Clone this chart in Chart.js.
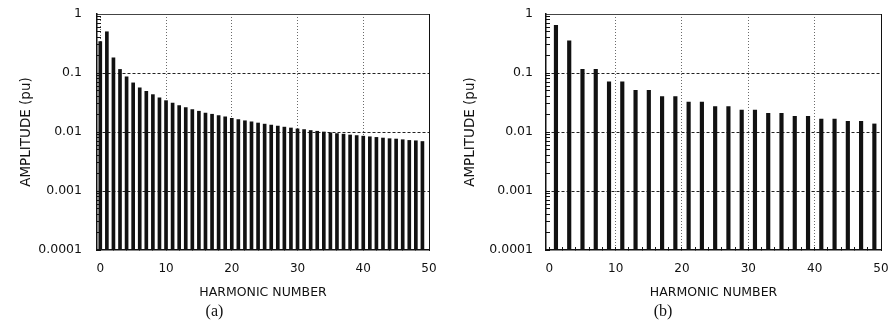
<!DOCTYPE html>
<html>
<head>
<meta charset="utf-8">
<title>Harmonic spectra</title>
<script src="https://cdn.jsdelivr.net/npm/chart.js@4.4.1/dist/chart.umd.min.js"></script>
<style>
  html, body { margin: 0; padding: 0; background: #fff; }
  #wrap { position: relative; width: 891px; height: 328px; overflow: hidden; }
  canvas { position: absolute; top: 0; }
  #spectrumA { left: 0; }
  #spectrumB { left: 445px; }
</style>
</head>
<body>
<div id="wrap">
  <canvas id="spectrumA" width="445" height="328"></canvas>
  <canvas id="spectrumB" width="446" height="328"></canvas>
</div>
<script>
// Panel (a): every harmonic 0..49
const harmonicsA = [0, 1, 2, 3, 4, 5, 6, 7, 8, 9, 10, 11, 12, 13, 14, 15, 16, 17, 18, 19,
  20, 21, 22, 23, 24, 25, 26, 27, 28, 29, 30, 31, 32, 33, 34, 35, 36, 37, 38, 39,
  40, 41, 42, 43, 44, 45, 46, 47, 48, 49];
const amplitudeA = [0.34, 0.50, 0.18, 0.115, 0.086, 0.068, 0.056, 0.049, 0.043, 0.038,
  0.034, 0.031, 0.028, 0.026, 0.024, 0.0225, 0.021, 0.020, 0.019, 0.018,
  0.017, 0.0162, 0.0155, 0.0148, 0.0142, 0.0136, 0.0131, 0.0126, 0.0121, 0.0117,
  0.0113, 0.0110, 0.0106, 0.0103, 0.0100, 0.0097, 0.0094, 0.0092, 0.0089, 0.0087,
  0.0085, 0.0083, 0.0081, 0.0079, 0.0077, 0.0076, 0.0074, 0.0072, 0.0071, 0.0069];

// Panel (b): odd harmonics only
const harmonicsB = [1, 3, 5, 7, 9, 11, 13, 15, 17, 19, 21, 23, 25, 27, 29, 31, 33, 35, 37, 39,
  41, 43, 45, 47, 49];
const amplitudeB = [0.64, 0.35, 0.115, 0.115, 0.071, 0.071, 0.051, 0.051, 0.040, 0.040,
  0.032, 0.032, 0.027, 0.027, 0.0235, 0.0235, 0.0207, 0.0207, 0.0185, 0.0185,
  0.0166, 0.0166, 0.0152, 0.0152, 0.0137];

// Axis labels
const xTickLabels = [0, 10, 20, 30, 40, 50];
const yTickLabels = [1, 0.1, 0.01, 0.001, 0.0001];
const xTitle = 'HARMONIC NUMBER';
const yTitle = 'AMPLITUDE (pu)';

const INK = '#111';
const sans = 'DejaVu Sans';

// small tick marks every 2 harmonics along the bottom axis
const xTickMarks = [];
for (let h = 0; h <= 50; h += 2) xTickMarks.push(h);

function isDecade(value) {
  return yTickLabels.some(t => Math.abs(Math.log10(value) - Math.log10(t)) < 1e-6);
}

/**
 * Build one spectrum panel
 * @param {string} canvasId
 * @param {Array} harmonics - x positions of the bars
 * @param {Array} amplitudes - bar heights (pu)
 * @param {Object} look - layout tweaks for this panel
 */
function createSpectrumChart(canvasId, harmonics, amplitudes, look) {
  const ctx = document.getElementById(canvasId).getContext('2d');

  return new Chart(ctx, {
    type: 'bar',
    data: {
      datasets: [{
        data: harmonics.map((h, i) => ({ x: h, y: amplitudes[i] })),
        backgroundColor: INK,
        borderWidth: 0,
        barThickness: look.barWidth,
        base: 0.0001,
        xAxisID: 'x',
        yAxisID: 'y'
      }]
    },
    options: {
      responsive: false,
      animation: false,
      events: [],
      layout: {
        padding: { left: 0, right: look.rightPad, top: 14, bottom: 0 }
      },
      scales: {
        x: {
          type: 'linear',
          position: 'bottom',
          offset: false,
          min: -0.5,
          max: 50,
          afterBuildTicks: s => { s.ticks = xTickMarks.map(v => ({ value: v })); },
          afterFit: s => {
            s.height = 51.8;
            s.paddingLeft = 0;
            s.paddingRight = 0;
          },
          ticks: {
            autoSkip: false,
            maxRotation: 0,
            minRotation: 0,
            padding: 14.8,
            color: INK,
            font: { family: sans, size: 12 },
            callback: v => (xTickLabels.includes(v) ? String(v) : '')
          },
          grid: {
            offset: false,
            color: c => (c.tick && look.xGrid.includes(c.tick.value) ? '#6a6a6a' : 'rgba(0,0,0,0)'),
            lineWidth: 1,
            tickLength: -3,
            tickColor: INK
          },
          border: { display: true, color: INK, width: 1.5, dash: [1, 2] },
          title: {
            display: true,
            text: xTitle,
            color: INK,
            font: { family: sans, size: 12.5 },
            padding: { top: 0, bottom: 1.3 }
          }
        },
        x2: {
          type: 'linear',
          position: 'top',
          afterFit: s => { s.height = 0; },
          ticks: { display: false },
          grid: { display: false },
          border: { display: true, color: '#444', width: 1 }
        },
        y: {
          type: 'logarithmic',
          position: 'left',
          min: 0.0001,
          max: 1,
          afterBuildTicks: s => {
            // keep 1..9 x 10^n only
            s.ticks = s.ticks.filter(t => {
              const m = t.value / Math.pow(10, Math.floor(Math.log10(t.value) + 1e-9));
              return Math.abs(m - Math.round(m)) < 1e-6;
            });
          },
          afterFit: s => {
            s.width = look.yAxisWidth;
            // tick padding would otherwise push the plot down
            s.paddingTop = 0;
            s.paddingBottom = 0;
          },
          ticks: {
            autoSkip: false,
            padding: look.yTickPad,
            color: INK,
            font: { family: sans, size: 12.5 },
            callback: v => (isDecade(v) ? String(v) : '')
          },
          grid: {
            color: c => (c.tick && isDecade(c.tick.value) && c.tick.value < 1 && c.tick.value > 0.0001 ? '#222' : 'rgba(0,0,0,0)'),
            lineWidth: 1,
            tickLength: -4,
            tickColor: INK
          },
          border: { display: true, color: INK, width: 1.5, dash: [3, 2] },
          title: {
            display: true,
            text: yTitle,
            color: INK,
            font: { family: sans, size: 13.5 },
            padding: { top: look.yTitlePad, bottom: 0 }
          }
        },
        y2: {
          type: 'linear',
          position: 'right',
          afterFit: s => { s.width = 0; },
          ticks: { display: false },
          grid: { display: false },
          border: { display: true, color: INK, width: 1 }
        }
      },
      plugins: {
        legend: { display: false },
        tooltip: { enabled: false },
        title: {
          display: true,
          position: 'bottom',
          text: look.caption,
          color: INK,
          font: { family: 'Liberation Serif', size: 16, weight: 'normal' },
          padding: { top: 0, bottom: 7 }
        }
      }
    }
  });
}

try {
  createSpectrumChart('spectrumA', harmonicsA, amplitudeA, {
    caption: '(a)',
    barWidth: 3,
    rightPad: 16,
    yAxisWidth: 97,
    yTickPad: 19,
    yTitlePad: 17.9,
    xGrid: [0, 10, 20, 30, 40]
  });
  createSpectrumChart('spectrumB', harmonicsB, amplitudeB, {
    caption: '(b)',
    barWidth: 3.5,
    rightPad: 10,
    yAxisWidth: 101,
    yTickPad: 17,
    yTitlePad: 16.9,
    xGrid: [10, 20, 30, 40]
  });
} catch (error) {
  console.error('Error creating chart:', error);
}
</script>
</body>
</html>
